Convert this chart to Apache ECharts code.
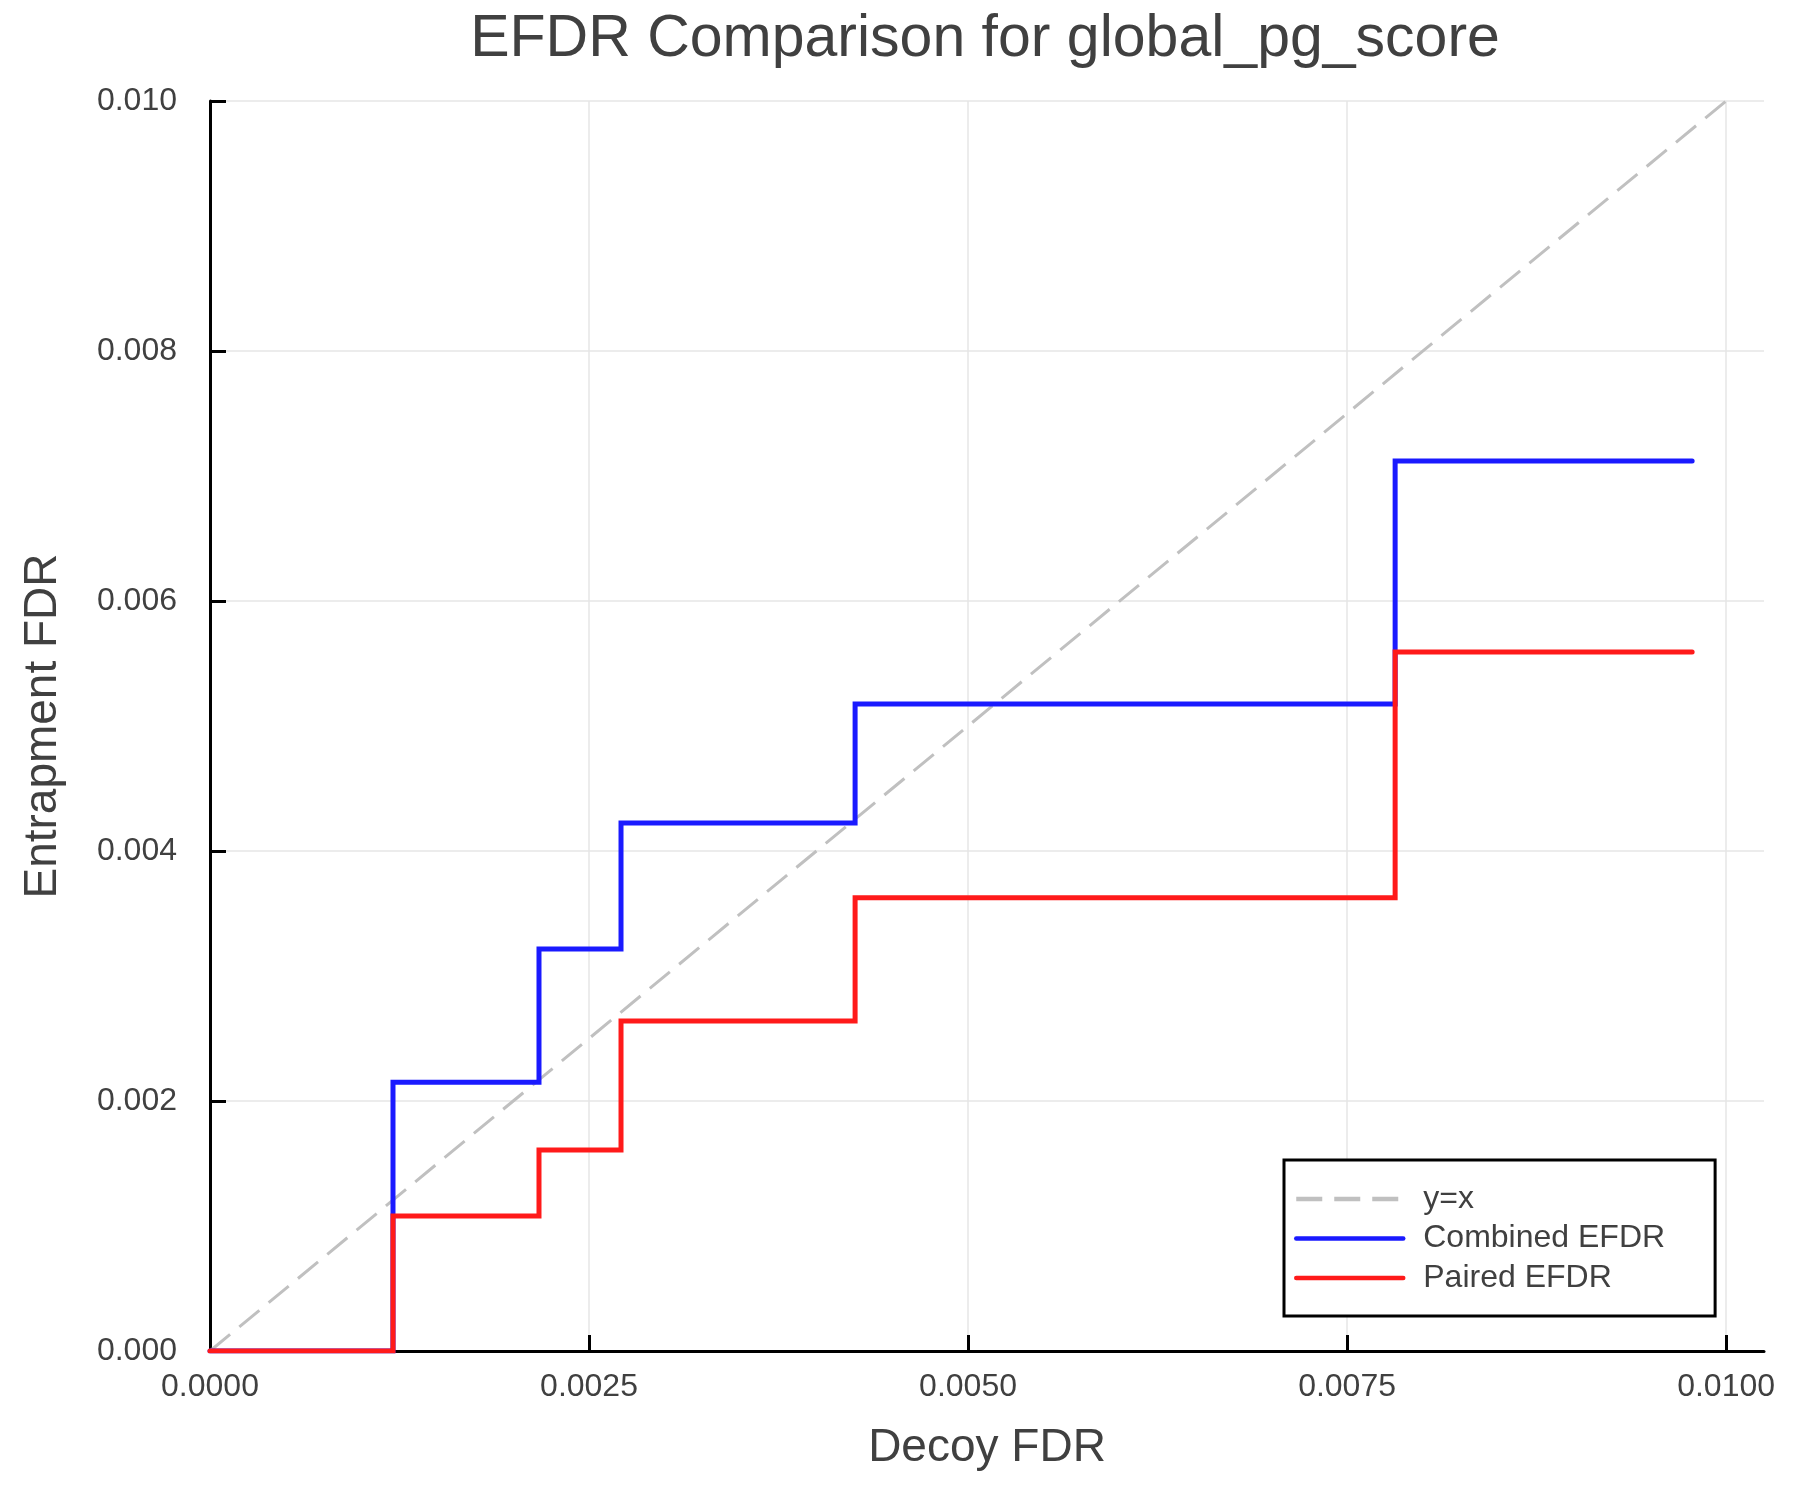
<!DOCTYPE html>
<html>
<head>
<meta charset="utf-8">
<script src="https://cdn.jsdelivr.net/npm/echarts@6/dist/echarts.min.js"></script>
<style>
html,body{margin:0;padding:0;background:#fff;}
#chart{width:1800px;height:1500px;}
</style>
</head>
<body>
<div id="chart"></div>
<script>
// Decoy FDR breakpoints (x) and step values
const decoyFDR   = [0, 0.001207, 0.00217, 0.002711, 0.004255, 0.007817, 0.009776];
const combined   = [0, 0.00215, 0.003216, 0.004224, 0.005176, 0.00712, 0.00712];
const paired     = [0, 0.00108, 0.001608, 0.00264, 0.003626, 0.005592, 0.005592];
const diagX      = [0, 0.01];
const diagY      = [0, 0.01];
const xTicks     = [0, 0.0025, 0.005, 0.0075, 0.01];
const yTicks     = [0, 0.002, 0.004, 0.006, 0.008, 0.01];

const FONT = '"Liberation Sans", Helvetica, Arial, sans-serif';
const TXT = '#404040';

const zip = (xs, ys) => xs.map((x, i) => [x, ys[i]]);

const chart = echarts.init(document.getElementById('chart'), null, {renderer: 'canvas'});
chart.setOption({
  backgroundColor: '#ffffff',
  animation: false,
  title: {
    text: 'EFDR Comparison for global_pg_score',
    left: 980,
    top: 5,
    textAlign: 'center',
    textStyle: {fontFamily: FONT, fontSize: 59, fontWeight: 'normal', color: TXT}
  },
  grid: {left: 210, right: 36, top: 101, bottom: 149, containLabel: false},
  legend: {
    orient: 'vertical',
    left: 1284,
    top: 1160,
    align: 'left',
    backgroundColor: '#ffffff',
    borderColor: '#000000',
    borderWidth: 3,
    borderRadius: 0,
    padding: [23, 50, 22, 10],
    itemWidth: 107,
    itemHeight: 20,
    itemGap: 7.5,
    itemStyle: {opacity: 0},
    lineStyle: {width: 4.5},
    textStyle: {fontFamily: FONT, fontSize: 32, color: TXT, lineHeight: 32, padding: [0, 0, 0, 15]},
    data: ['y=x', 'Combined EFDR', 'Paired EFDR']
  },
  xAxis: {
    type: 'value',
    min: 0,
    max: 0.01025,
    name: 'Decoy FDR',
    nameLocation: 'middle',
    nameGap: 74,
    nameTextStyle: {fontFamily: FONT, fontSize: 46, color: TXT},
    axisLine: {show: true, onZero: false, lineStyle: {color: '#000', width: 3}},
    axisTick: {show: true, inside: true, length: 16, lineStyle: {color: '#000', width: 3}, customValues: xTicks},
    axisLabel: {
      fontFamily: FONT, fontSize: 32, color: TXT, margin: 20,
      customValues: xTicks,
      formatter: v => v.toFixed(4)
    },
    splitLine: {show: true, lineStyle: {color: '#e6e6e6', width: 1.5}}
  },
  yAxis: {
    type: 'value',
    min: 0,
    max: 0.01,
    interval: 0.002,
    name: 'Entrapment FDR',
    nameLocation: 'middle',
    nameRotate: 90,
    nameGap: 144,
    nameTextStyle: {fontFamily: FONT, fontSize: 46, color: TXT},
    axisLine: {show: true, onZero: false, lineStyle: {color: '#000', width: 3}},
    axisTick: {show: true, inside: true, length: 16, lineStyle: {color: '#000', width: 3}},
    axisLabel: {
      fontFamily: FONT, fontSize: 32, color: TXT, margin: 33,
      formatter: v => v.toFixed(3)
    },
    splitLine: {show: true, lineStyle: {color: '#e6e6e6', width: 1.5}}
  },
  series: [
    {
      name: 'y=x',
      type: 'line',
      data: zip(diagX, diagY),
      symbol: 'none',
      showSymbol: false,
      lineStyle: {color: '#c0c0c0', width: 3, type: [26, 12]},
      itemStyle: {color: '#c0c0c0'},
      z: 2
    },
    {
      name: 'Combined EFDR',
      type: 'line',
      step: 'end',
      data: zip(decoyFDR, combined),
      symbol: 'none',
      showSymbol: false,
      lineStyle: {color: '#1a1aff', width: 5, cap: 'round', join: 'miter'},
      itemStyle: {color: '#1a1aff'},
      z: 3
    },
    {
      name: 'Paired EFDR',
      type: 'line',
      step: 'end',
      data: zip(decoyFDR, paired),
      symbol: 'none',
      showSymbol: false,
      lineStyle: {color: '#ff1a1a', width: 5, cap: 'round', join: 'miter'},
      itemStyle: {color: '#ff1a1a'},
      z: 4
    }
  ]
});
</script>
</body>
</html>
